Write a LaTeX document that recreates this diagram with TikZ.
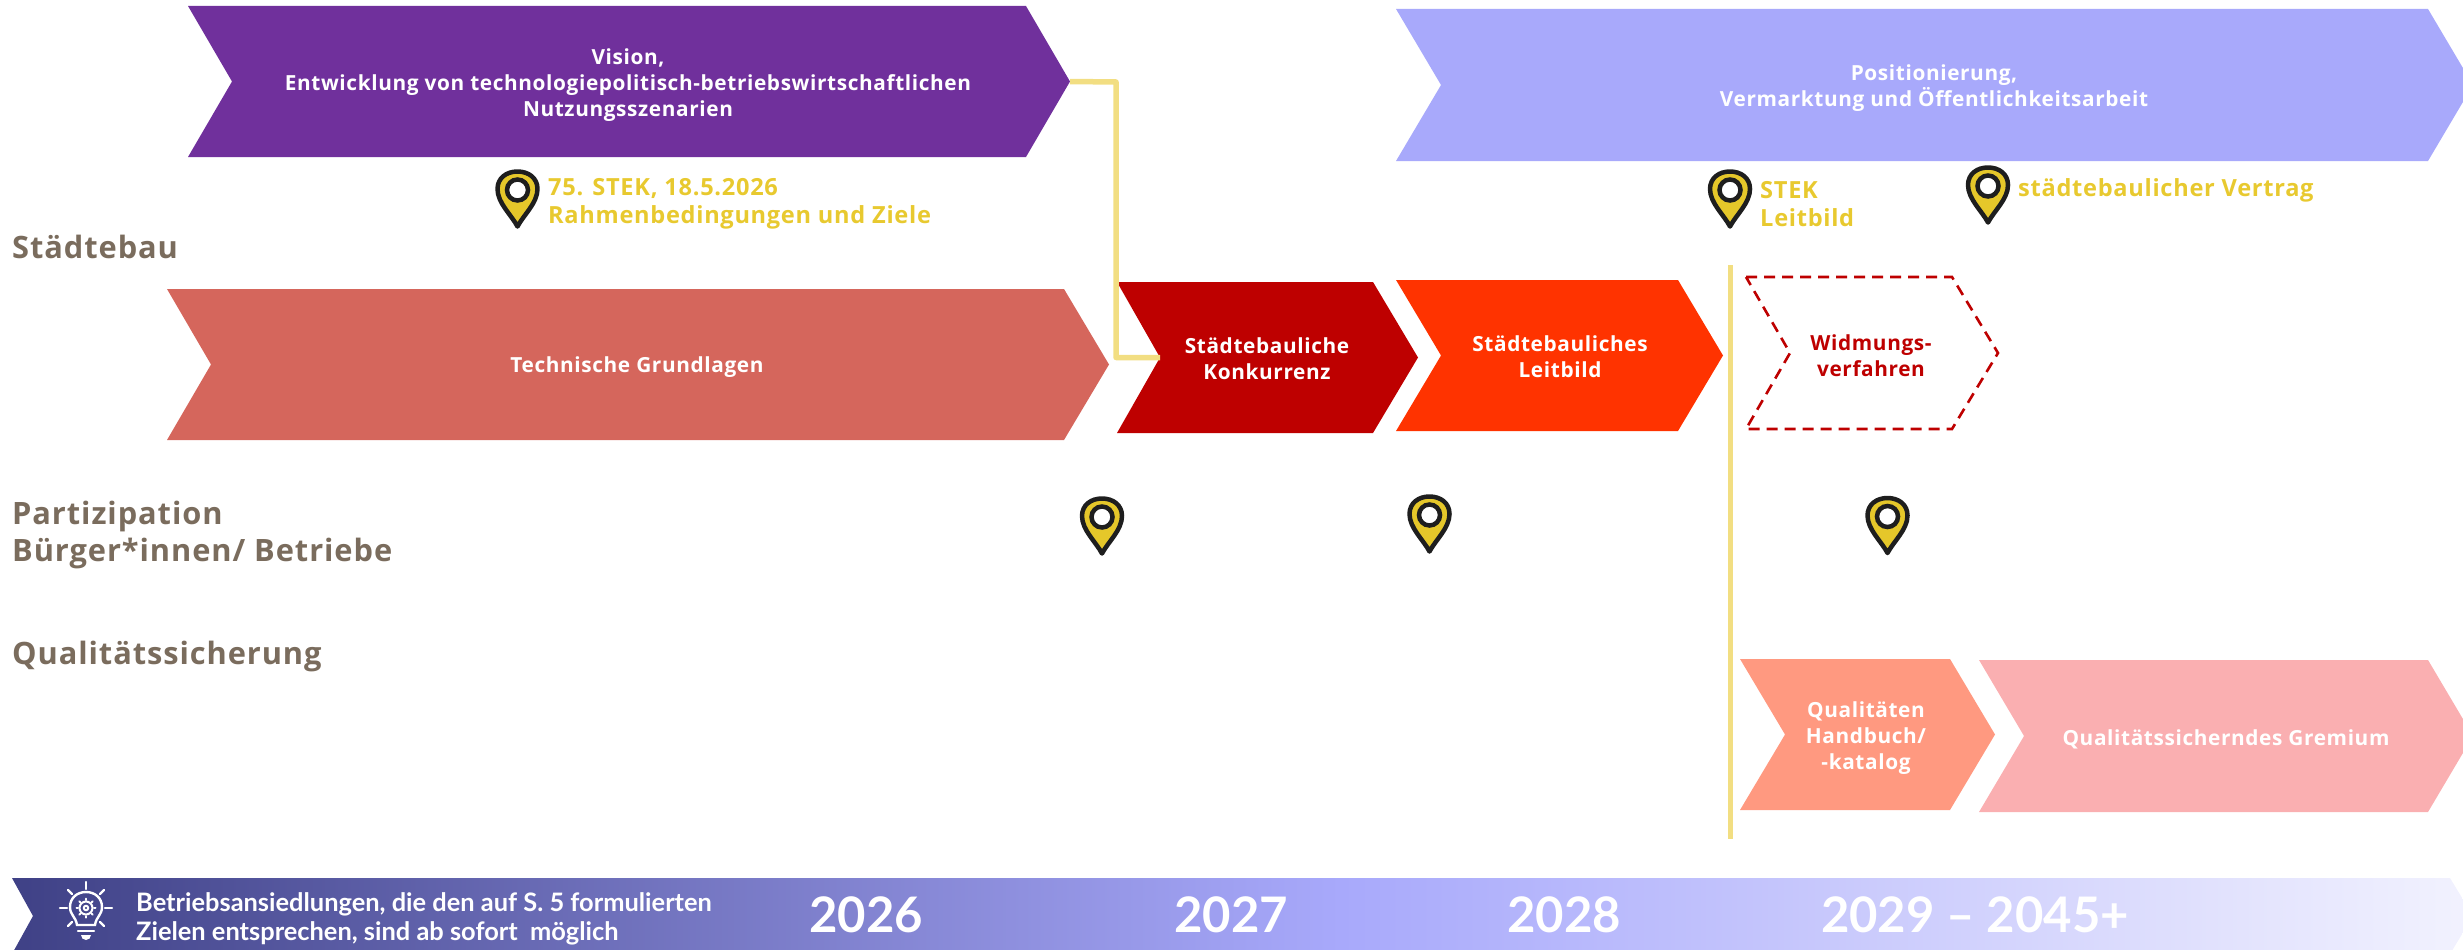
\documentclass[tikz,border=0pt]{standalone}
\usepackage{fontspec}
\setmainfont{Open Sans}
\newfontfamily\chevfont[LetterSpace=3]{Open Sans}
\newfontfamily\bandfont{Lato}
\definecolor{cPurple}{HTML}{70309C}
\definecolor{cLav}{HTML}{A8A9FB}
\definecolor{cTech}{HTML}{D5665C}
\definecolor{cDark}{HTML}{BE0000}
\definecolor{cOrange}{HTML}{FF3300}
\definecolor{cSalmon}{HTML}{FF9980}
\definecolor{cPink}{HTML}{FAAFB1}
\definecolor{cLine}{HTML}{F2DE82}
\definecolor{cGold}{HTML}{E8C92F}
\definecolor{cPinFill}{HTML}{E5C72A}
\definecolor{cPinEdge}{HTML}{1E1E1E}
\definecolor{cLabel}{HTML}{7A6C5D}
\definecolor{cBandL}{HTML}{3F4186}
\definecolor{cBandM}{HTML}{A8A9FB}
\definecolor{cBandR}{HTML}{F2F2FE}
\pgfdeclarehorizontalshading{bandshade}{100bp}{color(0bp)=(cBandL); color(25bp)=(cBandL); color(52bp)=(cBandM); color(75bp)=(cBandR); color(100bp)=(cBandR)}
\tikzset{
  x=1pt,y=-1pt,
  chevtext/.style={font=\chevfont\bfseries\fontsize{20.8}{26}\selectfont,text=white,align=center,inner sep=0pt},
  pinlabel/.style={font=\chevfont\bfseries\fontsize{23.6}{28}\selectfont,text=cGold,align=left,anchor=west,inner sep=0pt},
  rowlabel/.style={font=\chevfont\bfseries\fontsize{30.8}{37.5}\selectfont,text=cLabel,align=left,anchor=west,inner sep=0pt},
  yearlabel/.style={font=\bandfont\bfseries\fontsize{49}{50}\selectfont,text=white,inner sep=0pt},
  bandtext/.style={font=\bandfont\bfseries\fontsize{25.4}{29}\selectfont,text=white,align=left,anchor=west,inner sep=0pt},
  yellowline/.style={draw=cLine,line width=5.5pt,line join=round},
  pinshape/.pic={
    \fill[cPinFill,draw=cPinEdge,line width=4.5pt,line join=round]
      (0,27.5) .. controls (-6,16) and (-20,4) .. (-20,-10)
      .. controls (-20,-21) and (-11,-27.5) .. (0,-27.5)
      .. controls (11,-27.5) and (20,-21) .. (20,-10)
      .. controls (20,4) and (6,16) .. (0,27.5) -- cycle;
    \fill[white,draw=cPinEdge,line width=4.5pt] (0,-9) circle (10.5);
  },
  iconline/.style={draw=white,line width=2.4pt,line cap=round},
}
% name, left, notch, shoulder, tip, top, bottom, colour
\newcommand{\chevshape}[8]{%
  \pgfmathsetmacro{\midy}{(#6+#7)/2}%
  \fill[#8] (#2,#6) -- (#4,#6) -- (#5,\midy) -- (#4,#7) -- (#2,#7) -- (#3,\midy) -- cycle;
  \coordinate (#1-tip) at (#5,\midy);
  \coordinate (#1-notch) at (#3,\midy);
}
\begin{document}
\begin{tikzpicture}
\useasboundingbox (0,0) rectangle (2463,950);
\begin{scope}
\clip (0,0) rectangle (2463,950);
\chevshape{vision}{188}{232}{1026}{1070}{6}{157}{cPurple}
\chevshape{pos}{1396}{1441}{2428}{2473}{9}{161}{cLav}
\chevshape{tech}{167}{211}{1064}{1109}{289}{440}{cTech}
\chevshape{konk}{1117}{1160}{1373}{1418}{282}{433}{cDark}
\chevshape{leit}{1396}{1441}{1678}{1723}{280}{431}{cOrange}
\chevshape{qual}{1740}{1785}{1950}{1995}{659}{810}{cSalmon}
\chevshape{grem}{1979}{2024}{2428}{2473}{660}{812}{cPink}
% dashed chevron
\draw[cDark,line width=2.6pt,dash pattern=on 11pt off 7pt]
  (1746,277) -- (1952,277) -- (1998,353) -- (1952,429) -- (1746,429) -- (1790,353) -- cycle;
% band
\path[shading=bandshade]
  (12,878) -- (2450,878) -- (2473,916) -- (2450,954) -- (12,954) -- (33,916) -- cycle;
\end{scope}
% connector
\draw[yellowline] (vision-tip) -- (1116,82) |- (konk-notch);
\coordinate (vtop) at (1730.5,265);
\coordinate (vbot) at (1730.5,839);
\draw[yellowline,line width=5pt] (vtop) -- (vbot);
% chevron texts
\node[chevtext] (tvision) at (628,85.5) {Vision,\\Entwicklung von technologiepolitisch-betriebswirtschaftlichen\\Nutzungsszenarien};
\node[chevtext] (tpos) at (1934,88.5) {Positionierung,\\Vermarktung und Öffentlichkeitsarbeit};
\node[chevtext] (ttech) at (637,367) {Technische Grundlagen};
\node[chevtext] (tkonk) at (1267,358.5) {Städtebauliche\\Konkurrenz};
\node[chevtext] (tleit) at (1560,357) {Städtebauliches\\Leitbild};
\node[chevtext,text=cDark] (twid) at (1871,356) {Widmungs-\\verfahren};
\node[chevtext] (tqual) at (1866,738) {Qualitäten\\Handbuch/\\-katalog};
\node[chevtext] (tgrem) at (2226,739.5) {Qualitätssicherndes Gremium};
% pins
\pic at (517.5,199) {pinshape};
\pic at (1730,199) {pinshape};
\pic at (1988,195) {pinshape};
\pic at (1102,526) {pinshape};
\pic at (1429.5,524) {pinshape};
\pic at (1887.5,525.5) {pinshape};
% pin labels
\node[pinlabel] (l75) at (548,204) {75. STEK, 18.5.2026\\Rahmenbedingungen und Ziele};
\node[pinlabel] (lstek) at (1760,204) {STEK\\Leitbild};
\node[pinlabel] (lvert) at (2018,190) {städtebaulicher Vertrag};
% row labels
\node[rowlabel] (rst) at (12,247) {Städtebau};
\node[rowlabel] (rpa) at (12,535) {Partizipation\\Bürger*innen/ Betriebe};
\node[rowlabel] (rqu) at (12,656) {Qualitätssicherung};
% band text
\node[bandtext] (bt) at (136,919) {Betriebsansiedlungen, die den auf S. 5 formulierten\\Zielen entsprechen, sind ab sofort\ \ möglich};
\node[yearlabel] (y26) at (866,915) {2026};
\node[yearlabel] (y27) at (1231,915) {2027};
\node[yearlabel] (y28) at (1564,915) {2028};
\node[yearlabel] (y29) at (1975,915) {2029 – 2045+};
% icon
\begin{scope}[shift={(86,908)}]
  \draw[iconline] (-9,17) .. controls (-10,9) and (-16,7) .. (-16,-1)
     .. controls (-16,-10) and (-9,-16) .. (0,-16)
     .. controls (9,-16) and (16,-10) .. (16,-1)
     .. controls (16,7) and (10,9) .. (9,17) -- cycle;
  \draw[iconline,line width=2pt] (0,0) circle (6.5);
  \draw[iconline,line width=2pt] (0,0) circle (2.2);
  \foreach \a in {0,45,...,315} \draw[iconline,line width=2pt] (\a:8) -- (\a:9.5);
  \draw[iconline] (-8,23) -- (8,23);
  \fill[white] (-5,27) -- (5,27) arc[start angle=0,end angle=180,radius=5];
  \draw[iconline] (0,-26) -- (0,-19);
  \draw[iconline] (-18,-18) -- (-14,-14);
  \draw[iconline] (18,-18) -- (14,-14);
  \draw[iconline] (-26,0) -- (-19,0);
  \draw[iconline] (26,0) -- (19,0);
  \draw[iconline] (-18,18) -- (-14,14);
  \draw[iconline] (18,18) -- (14,14);
\end{scope}
\end{tikzpicture}
\end{document}
